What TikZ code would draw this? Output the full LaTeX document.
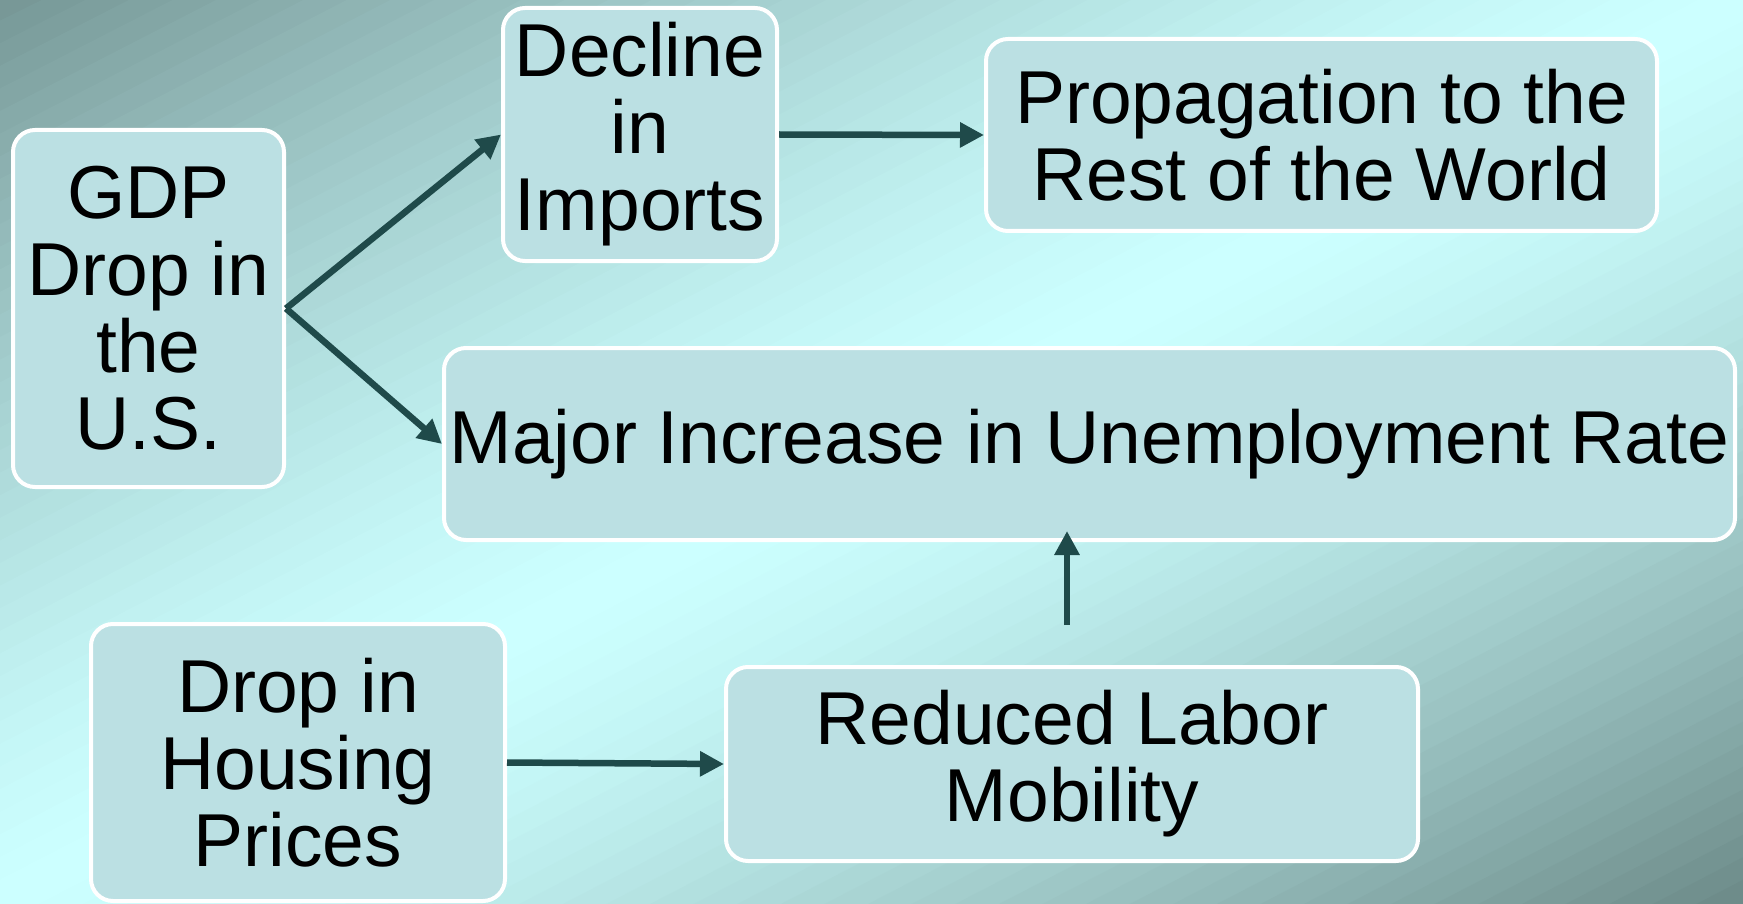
\documentclass[tikz,border=0pt]{standalone}
\usepackage{fontspec}
\setmainfont{Liberation Sans}
\usetikzlibrary{arrows.meta}
\definecolor{bgedge}{RGB}{118,150,149}
\definecolor{bgedgeb}{RGB}{108,138,136}
\definecolor{bgmid}{RGB}{204,255,255}
\definecolor{boxfill}{RGB}{187,224,227}
\definecolor{arrowcol}{RGB}{31,74,74}
\begin{document}
\begin{tikzpicture}[x=1pt,y=-1pt,
    box/.style={draw=white, line width=4pt, fill=boxfill, rounded corners=22pt,
        align=center, inner sep=0pt, font=\fontsize{75}{77}\selectfont},
    arr/.style={draw=arrowcol, line width=6.5pt, -{Triangle[length=24pt,width=24pt]}}]
        % Draw the background
        \useasboundingbox (0,0) rectangle (1743,904);
        \begin{scope}
            \clip (0,0) rectangle (1743,904);
            \foreach \i in {0,1,...,79} {
                \pgfmathsetmacro{\s}{\i/40}
                \pgfmathsetmacro{\t}{(\i+1)/40}
                \pgfmathparse{\i<40 ? (\i+0.5)/40 : (79.5-\i)/40}
                \pgfmathparse{100*(1-(1-\pgfmathresult)^1.4)}
                \edef\pct{\pgfmathresult}
                \ifnum\i<40 \colorlet{strip}{bgmid!\pct!bgedge}\else\colorlet{strip}{bgmid!\pct!bgedgeb}\fi
                \fill[strip] (\s*1743-2,0) -- (\t*1743+2,0) -- (0,\t*904+2) -- (0,\s*904-2) -- cycle;
            }
        \end{scope}

        % Add the boxes
        \node[box, minimum width=271pt, minimum height=357pt] (gdp) at (148.5,308.5) {GDP\\Drop in\\the\\U.S.};
        \node[box, minimum width=274pt, minimum height=253pt] (decline) at (640,134.5) {Decline\\in\\Imports};
        \node[box, minimum width=671pt, minimum height=192pt] (rest) at (1321.5,135) {Propagation to the\\Rest of the World};
        \node[box, minimum width=1291pt, minimum height=192pt] (unemp) at (1089.5,444) {Major Increase in Unemployment Rate};
        \node[box, minimum width=414pt, minimum height=277pt] (housing) at (298,762.5) {Drop in\\Housing\\Prices};
        \node[box, minimum width=692pt, minimum height=194pt] (labor) at (1072,764) {Reduced Labor\\Mobility};

        % Draw the arrows
        \draw[arr] (gdp.east) -- (decline.west);
        \draw[arr] (gdp.east) -- (unemp.west);
        \draw[arr] (decline.east) -- (rest.west);
        \draw[arr] (housing.east) -- (labor.west);
        \coordinate (up) at (1067,625);
        \draw[arr, shorten >=-11pt] (up) -- (up |- unemp.south);
    \end{tikzpicture}
\end{document}
